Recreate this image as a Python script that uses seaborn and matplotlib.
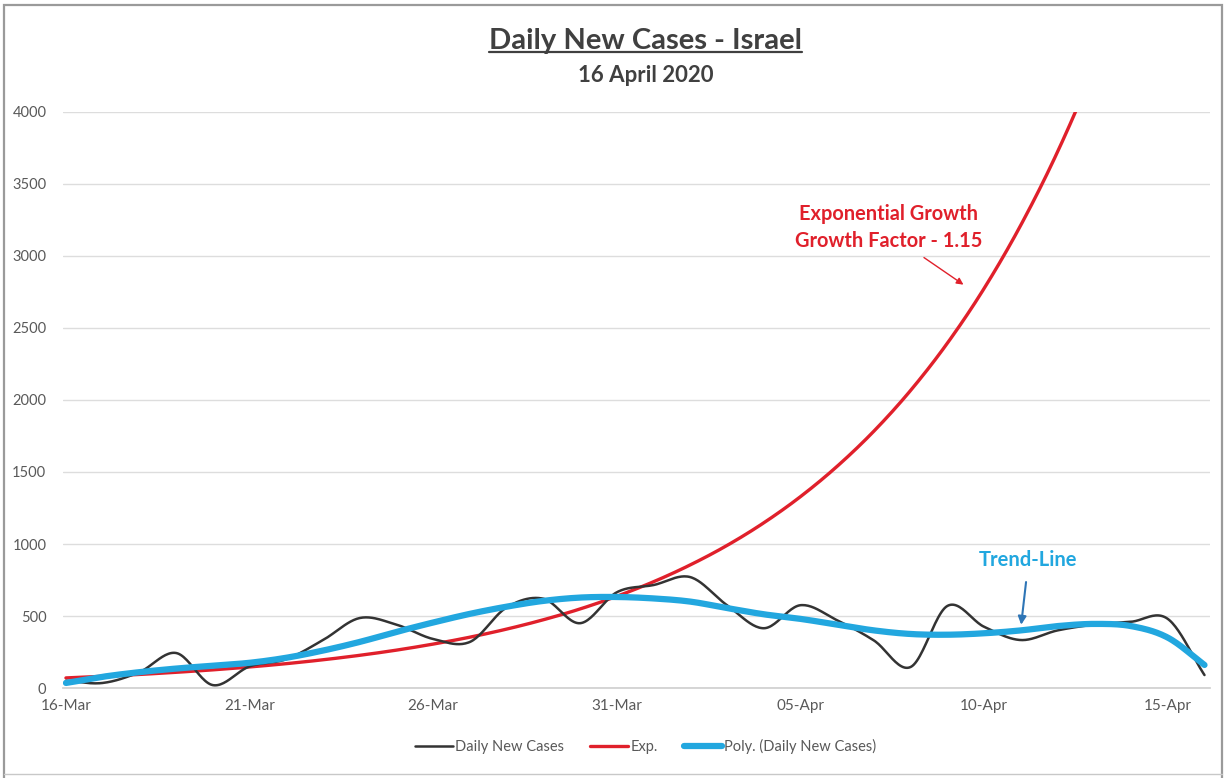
import matplotlib
matplotlib.use("Agg")
import matplotlib.pyplot as plt
import seaborn as sns
import numpy as np
import pandas as pd
from matplotlib.lines import Line2D
from matplotlib.patches import Rectangle

# daily values, 16-Mar .. 16-Apr 2020
dates = pd.date_range("2020-03-16", "2020-04-16")
daily_cases = [50, 35, 110, 243, 20, 150, 200, 333, 486, 440, 340, 320,
               560, 620, 450, 665, 715, 770, 575, 415, 575, 470, 330, 146,
               570, 425, 333, 400, 440, 460, 480, 90]
exp_fit = [70, 81, 94, 109, 126, 146, 169, 196, 227, 263, 305, 353,
           409, 474, 549, 637, 738, 855, 990, 1147, 1329, 1540, 1784, 2067,
           2395, 2775, 3215, 3724, 4315, 5000]
poly_fit = [35, 78, 110, 135, 155, 175, 210, 260, 320, 390, 455, 515,
            565, 605, 628, 632, 622, 600, 555, 512, 480, 440, 400, 375,
            370, 380, 400, 430, 445, 430, 350, 160]
tick_days = [0, 5, 10, 15, 20, 25, 30]
tick_labels = ["16-Mar", "21-Mar", "26-Mar", "31-Mar", "05-Apr", "10-Apr", "15-Apr"]
y_ticks = list(range(0, 4001, 500))


def smooth(y, n=24):
    """Catmull-Rom smoothing like Excel's 'smoothed line' option"""
    y = np.asarray(y, float)
    x = np.arange(len(y), dtype=float)
    px = np.concatenate([[2 * x[0] - x[1]], x, [2 * x[-1] - x[-2]]])
    py = np.concatenate([[2 * y[0] - y[1]], y, [2 * y[-1] - y[-2]]])
    t = np.linspace(0, 1, n, endpoint=False)
    xs, ys = [], []
    for i in range(1, len(px) - 2):
        for p, out in ((px, xs), (py, ys)):
            p0, p1, p2, p3 = p[i - 1], p[i], p[i + 1], p[i + 2]
            seg = 0.5 * (2 * p1 + (-p0 + p2) * t + (2 * p0 - 5 * p1 + 4 * p2 - p3) * t ** 2
                         + (-p0 + 3 * p1 - 3 * p2 + p3) * t ** 3)
            out.extend(seg)
    xs.append(x[-1])
    ys.append(y[-1])
    return np.array(xs), np.array(ys)


sns.set_theme(style="white")
plt.rcParams["font.family"] = ["Lato", "DejaVu Sans"]

fig = plt.figure(figsize=(12.25, 7.78), dpi=100)
ax = fig.add_axes([63 / 1225, 1 - 688 / 778, (1210 - 63) / 1225, (688 - 112) / 778])

BLACK = "#333333"
RED = "#E0202B"
BLUE = "#22A7DF"

xb, yb = smooth(daily_cases)
xr, yr = smooth(exp_fit)
xp, yp = smooth(poly_fit)

sns.lineplot(x=xb, y=yb, ax=ax, color=BLACK, linewidth=1.8, estimator=None, sort=False,
             label="Daily New Cases", zorder=3)
sns.lineplot(x=xr, y=yr, ax=ax, color=RED, linewidth=2.4, estimator=None, sort=False,
             label="Exp.", zorder=2)
sns.lineplot(x=xp, y=yp, ax=ax, color=BLUE, linewidth=4.5, estimator=None, sort=False,
             label="Poly. (Daily New Cases)", zorder=4)

ax.set_xlim(-0.08, 31.15)
ax.set_ylim(0, 4000)
ax.set_yticks(y_ticks)
ax.set_yticklabels([str(v) for v in y_ticks], fontsize=10.5, color="#595959")
ax.set_xticks(tick_days)
ax.set_xticklabels(tick_labels, fontsize=11, color="#595959")
ax.tick_params(axis="both", length=0, pad=8)
ax.tick_params(axis="y", pad=12)
ax.grid(axis="y", color="#DDDDDD", linewidth=1)
for side in ["top", "right", "left"]:
    ax.spines[side].set_visible(False)
ax.spines["bottom"].set_color("#D0D0D0")
ax.set_xlabel("")
ax.set_ylabel("")

# legend below the plot
handles, labels = ax.get_legend_handles_labels()
ax.get_legend().remove()
fig.legend(handles, labels, loc="center", bbox_to_anchor=(0.527, 0.041), ncol=3,
           frameon=False, fontsize=10.5, labelcolor="#595959", handlelength=2.6,
           columnspacing=1.8, handletextpad=0.15)

# titles
title = fig.text(0.527, 1 - 41 / 778, "Daily New Cases - Israel", ha="center", va="center",
                 fontsize=21, fontweight="bold", color="#404040")
fig.text(0.527, 1 - 75 / 778, "16 April 2020", ha="center", va="center",
         fontsize=16, fontweight="bold", color="#404040")

# annotations
ax.text(22.4, 3200, "Exponential Growth\nGrowth Factor - 1.15", ha="center",
        va="center", fontsize=14.4, fontweight="bold", color=RED, linespacing=1.45)
ax.annotate("", xy=(24.5, 2790), xytext=(23.3, 3000),
            arrowprops=dict(arrowstyle="-|>", color=RED, lw=1, mutation_scale=10))
ax.text(26.2, 890, "Trend-Line", ha="center", va="center", fontsize=14.5,
        fontweight="bold", color=BLUE)
ax.annotate("", xy=(26.0, 420), xytext=(26.15, 755),
            arrowprops=dict(arrowstyle="-|>", color="#2E75B6", lw=1.5, mutation_scale=12))

# underline under the title
fig.canvas.draw()
bb = title.get_window_extent().transformed(fig.transFigure.inverted())
fig.add_artist(Line2D([bb.x0, bb.x1], [bb.y0 + 0.002, bb.y0 + 0.002],
                      transform=fig.transFigure, color="#404040", linewidth=1.6))

# outer chart frame
fig.add_artist(Rectangle((4 / 1225, -0.01), 1218 / 1225, 1 - 5 / 778 + 0.01,
                         transform=fig.transFigure, fill=False, edgecolor="#9A9A9A",
                         linewidth=1.6))
fig.add_artist(Line2D([4 / 1225, 1222 / 1225], [1 - 774 / 778] * 2,
                      transform=fig.transFigure, color="#C8C8C8", linewidth=1))

fig.savefig("out.png", dpi=100)
